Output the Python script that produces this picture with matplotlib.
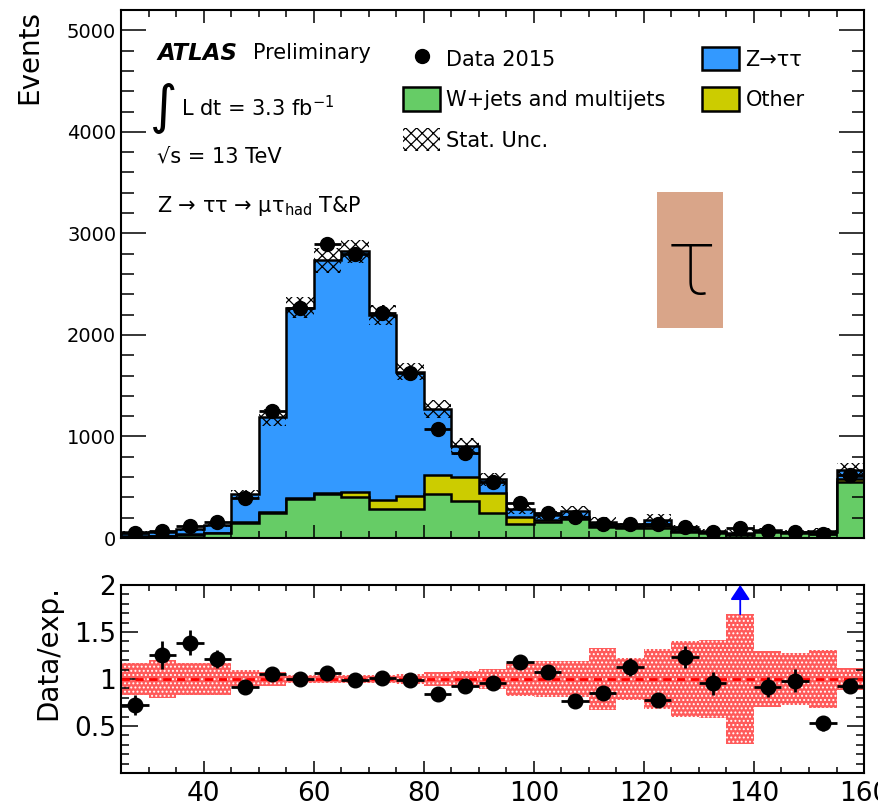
import numpy as np
import matplotlib.pyplot as plt
from matplotlib.lines import Line2D
from matplotlib.patches import Patch, Rectangle
from matplotlib.ticker import MultipleLocator, FixedLocator, FormatStrFormatter

plt.rcParams['font.family'] = 'DejaVu Sans'
plt.rcParams['mathtext.default'] = 'regular'
plt.rcParams['hatch.linewidth'] = 0.9

# visible mass binning, 5 GeV bins from 25 to 160
bin_edges = np.arange(25, 161, 5)
bin_centers = 0.5 * (bin_edges[:-1] + bin_edges[1:])

data_2015 = np.array([45, 69, 118, 160, 397, 1250, 2270, 2900, 2795, 2218, 1621, 1070, 840, 554,
                      341, 243, 203, 135, 138, 138, 111, 62, 101, 72, 62, 39, 620])
w_jets = np.array([15, 20, 30, 45, 150, 249, 387, 433, 407, 282, 282, 433, 364, 243,
                   138, 161, 184, 111, 95, 95, 60, 50, 30, 55, 45, 55, 548])
other = np.array([3, 3, 5, 5, 5, 8, 10, 8, 49, 92, 135, 187, 240, 197,
                  72, 20, 20, 10, 8, 20, 8, 5, 5, 5, 5, 5, 32])
z_tautau = np.array([44, 32, 50, 82, 277, 933, 1873, 2295, 2367, 1822, 1220, 654, 299, 140,
                     79, 46, 60, 38, 19, 62, 22, 10, 10, 19, 13, 14, 87])
# relative statistical uncertainty of the expectation
stat_unc = np.array([0.165, 0.20, 0.165, 0.165, 0.10, 0.07, 0.045, 0.045, 0.04, 0.045, 0.05, 0.07,
                     0.09, 0.11, 0.18, 0.19, 0.19, 0.33, 0.22, 0.32, 0.40, 0.41, 0.69, 0.30,
                     0.28, 0.31, 0.115])

c_ztt = '#3399ff'
c_wjets = '#66cc66'
c_other = '#cccc00'

stack_green = w_jets
stack_other = w_jets + other
expected = stack_other + z_tautau

fig = plt.figure(figsize=(8.79, 8.07), dpi=100)
ax = fig.add_axes([0.1377, 0.3333, 0.8453, 0.6543])
rax = fig.add_axes([0.1377, 0.0421, 0.8453, 0.2330], sharex=ax)

# stacked backgrounds, drawn from the top of the stack down
for vals, col in [(expected, c_ztt), (stack_other, c_other), (stack_green, c_wjets)]:
    ax.stairs(vals, bin_edges, fill=True, facecolor=col, edgecolor='black', linewidth=1.8)

ax.stairs(expected * (1 + stat_unc), bin_edges, baseline=expected * (1 - stat_unc),
          fill=True, facecolor='none', edgecolor='black', hatch='xxx', linewidth=0)

ax.errorbar(bin_centers, data_2015, xerr=2.5, yerr=np.sqrt(data_2015), fmt='o', color='black',
            ms=10, elinewidth=2, capsize=0, zorder=5)

ax.set_xlim(25, 160)
ax.set_ylim(0, 5200)
ax.yaxis.set_major_locator(MultipleLocator(1000))
ax.yaxis.set_minor_locator(MultipleLocator(200))
ax.xaxis.set_major_locator(MultipleLocator(20))
ax.xaxis.set_minor_locator(MultipleLocator(5))
ax.tick_params(axis='x', labelbottom=False)
ax.tick_params(which='both', direction='in', top=True, right=True, width=1.1)
ax.tick_params(axis='y', which='major', length=18, labelsize=14)
ax.tick_params(axis='y', which='minor', length=9)
ax.tick_params(axis='x', which='major', length=9.5)
ax.tick_params(axis='x', which='minor', length=5)
ax.set_ylabel('Events', fontsize=20, loc='top')
ax.yaxis.set_label_coords(-0.105, 1.0)

tr = ax.transAxes
ax.text(0.0485, 0.918, 'ATLAS', fontsize=16.5, fontweight='bold', fontstyle='italic',
        transform=tr, va='center')
ax.text(0.178, 0.918, 'Preliminary', fontsize=15, transform=tr, va='center')
ax.text(0.039, 0.815, '\u222b', fontsize=38, transform=tr, va='center')
ax.text(0.081, 0.815, 'L dt = 3.3 fb$^{-1}$', fontsize=15, transform=tr, va='center')
ax.text(0.0485, 0.723, '\u221as = 13 TeV', fontsize=15, transform=tr, va='center')
ax.text(0.0485, 0.628, 'Z \u2192 \u03c4\u03c4 \u2192 \u03bc\u03c4$_{had}$ T&P', fontsize=15,
        transform=tr, va='center')

handles = [
    Line2D([], [], marker='o', color='black', ls='none', ms=10),
    Patch(facecolor=c_wjets, edgecolor='black', linewidth=1.8),
    Patch(facecolor='none', edgecolor='black', hatch='xxx', linewidth=0),
    Patch(facecolor=c_ztt, edgecolor='black', linewidth=1.8),
    Patch(facecolor=c_other, edgecolor='black', linewidth=1.8),
]
labels = ['Data 2015', 'W+jets and multijets', 'Stat. Unc.', 'Z\u2192\u03c4\u03c4', 'Other']
ax.legend(handles, labels, ncol=2, loc='upper left', bbox_to_anchor=(0.3795, 0.930),
          frameon=False, fontsize=15, borderpad=0, borderaxespad=0, handlelength=1.78,
          handleheight=1.35, handletextpad=0.3, labelspacing=0.82, columnspacing=1.75)

# ratio panel
ratio = data_2015 / expected
ratio_err = np.sqrt(data_2015) / expected
ylo, yhi = 0.0, 2.0
rax.stairs(1 + stat_unc, bin_edges, baseline=1 - stat_unc, fill=True, facecolor='#ff5a5a',
           edgecolor='white', hatch='....', linewidth=0)
rax.axhline(1, color='red', ls=(0, (3, 2)), lw=2)
inside = ratio <= yhi
rax.errorbar(bin_centers[inside], ratio[inside], xerr=2.5, yerr=ratio_err[inside], fmt='o',
             color='black', ms=10.5, elinewidth=2, capsize=0, zorder=5)
for c, u in zip(bin_centers[~inside], stat_unc[~inside]):
    rax.annotate('', xy=(c, yhi), xytext=(c, 1 + u),
                 arrowprops=dict(arrowstyle='-|>,head_length=0.45,head_width=0.3',
                                 color='blue', lw=1.3, mutation_scale=20, shrinkA=0, shrinkB=0))

rax.set_ylim(ylo, yhi)
rax.yaxis.set_major_locator(FixedLocator([0.5, 1.0, 1.5, 2.0]))
rax.yaxis.set_major_formatter(FormatStrFormatter('%g'))
rax.yaxis.set_minor_locator(MultipleLocator(0.1))
rax.tick_params(which='both', direction='in', top=True, right=True, width=1.1)
rax.tick_params(axis='y', which='major', length=12, labelsize=19)
rax.tick_params(axis='y', which='minor', length=6)
rax.tick_params(axis='x', which='major', length=9, labelsize=19, pad=6)
rax.tick_params(axis='x', which='minor', length=4)
rax.set_ylabel('Data/exp.', fontsize=20, loc='top')
rax.yaxis.set_label_coords(-0.079, 1.0)

for a in (ax, rax):
    for s in a.spines.values():
        s.set_linewidth(1.5)

# tau logo
fig.patches.append(Rectangle((0.747, 0.594), 0.076, 0.1685, transform=fig.transFigure,
                             facecolor='#d9a589', edgecolor='none', zorder=10))
fig.text(0.786, 0.668, '\u03c4', fontsize=68, family=['Roboto', 'DejaVu Sans'],
         fontweight='light', ha='center', va='center', zorder=11)

fig.savefig('out.png', dpi=100)
